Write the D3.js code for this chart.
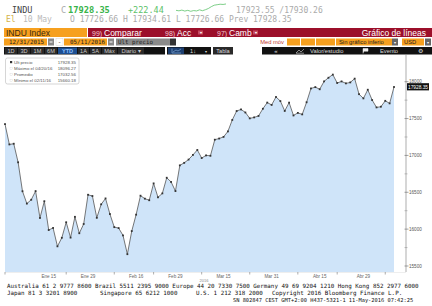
<!DOCTYPE html>
<html><head><meta charset="utf-8">
<script src="https://cdn.jsdelivr.net/npm/d3@7"></script>
<style>
html,body{margin:0;padding:0;background:#fff;}
svg{display:block;}
</style></head>
<body>
<svg id="c" width="432" height="306"></svg>
<script>
// ---------- DATA ----------
const dates = ["2015-12-31",
"2016-01-04","2016-01-05","2016-01-06","2016-01-07","2016-01-08","2016-01-11","2016-01-12","2016-01-13","2016-01-14","2016-01-15",
"2016-01-19","2016-01-20","2016-01-21","2016-01-22","2016-01-25","2016-01-26","2016-01-27","2016-01-28","2016-01-29",
"2016-02-01","2016-02-02","2016-02-03","2016-02-04","2016-02-05","2016-02-08","2016-02-09","2016-02-10","2016-02-11","2016-02-12",
"2016-02-16","2016-02-17","2016-02-18","2016-02-19","2016-02-22","2016-02-23","2016-02-24","2016-02-25","2016-02-26","2016-02-29",
"2016-03-01","2016-03-02","2016-03-03","2016-03-04","2016-03-07","2016-03-08","2016-03-09","2016-03-10","2016-03-11","2016-03-14",
"2016-03-15","2016-03-16","2016-03-17","2016-03-18","2016-03-21","2016-03-22","2016-03-23","2016-03-24","2016-03-28","2016-03-29",
"2016-03-30","2016-03-31","2016-04-01","2016-04-04","2016-04-05","2016-04-06","2016-04-07","2016-04-08","2016-04-11","2016-04-12",
"2016-04-13","2016-04-14","2016-04-15","2016-04-18","2016-04-19","2016-04-20","2016-04-21","2016-04-22","2016-04-25","2016-04-26",
"2016-04-27","2016-04-28","2016-04-29","2016-05-02","2016-05-03","2016-05-04","2016-05-05","2016-05-06","2016-05-09","2016-05-10"];
const closes = [17425.03,
17148.94,17158.66,16906.51,16514.10,16346.45,16398.57,16516.22,16151.41,16379.05,15988.08,
16016.02,15766.74,15882.68,16093.51,15885.22,16167.23,15944.46,16069.64,16466.30,
16449.18,16153.54,16336.66,16416.58,16204.97,16027.05,16014.38,15914.74,15660.18,15973.84,
16196.41,16453.83,16413.43,16391.99,16620.66,16431.78,16484.99,16697.29,16639.97,16516.50,
16865.08,16899.32,16943.90,17006.77,17073.95,16964.10,17000.36,16995.13,17213.31,17229.13,
17251.53,17325.76,17481.49,17602.30,17623.87,17582.57,17502.59,17515.73,17535.39,17633.11,
17716.66,17685.09,17792.75,17737.00,17603.32,17716.05,17541.96,17576.96,17556.41,17721.25,
17908.28,17926.43,17897.46,18004.16,18053.60,18096.27,17982.52,18003.75,17977.24,17990.32,
18041.55,17830.76,17773.64,17891.16,17750.91,17651.26,17660.71,17740.63,17705.91,17928.35];
const xLabelDates = ["2016-01-15","2016-01-29","2016-02-16","2016-02-29","2016-03-15","2016-03-31","2016-04-15","2016-04-29"];
const xLabelTexts = ["Ene 15","Ene 29","Feb 16","Feb 29","Mar 15","Mar 31","Abr 15","Abr 29"];
const xTickDates = ["2015-12-31","2016-01-22","2016-02-08","2016-02-22","2016-03-08","2016-03-23","2016-04-08","2016-04-21","2016-05-06"];
const yTicks = [15500,16000,16500,17000,17500,18000];
const yMinorTicks = [15750,16250,16750,17250,17750];
const legendLabels = ["Ult precio","Máximo el 04/20/16","Promedio","Mínimo el 02/11/16"];
const legendValues = ["17928.35","18096.27","17032.56","15660.18"];
const sparkValues = [3,2.6,3.2,2.4,3,2.2,2.8,2.5,3.4,2.7,3.5,4.5,6,7.2,7.6,8,7.8,8.2];
const timeButtons = ["1D","3D","1M","6M","YTD","1A","5A","Máx","Diario ▾"];
const footerLine1 = "Australia 61 2 9777 8600 Brazil 5511 2395 9000 Europe 44 20 7330 7500 Germany 49 69 9204 1210 Hong Kong 852 2977 6000";
const footerLine2 = ["Japan 81 3 3201 8900","Singapore 65 6212 1000","U.S. 1 212 318 2000","Copyright 2016 Bloomberg Finance L.P."];
const footerLine3 = "SN 802847 CEST  GMT+2:00 H437-5321-1 11-May-2016 07:42:25";

// ---------- SETUP ----------
const svg = d3.select("#c");
const mono = "'DejaVu Sans Mono', 'Liberation Mono', monospace";
const sans = "'Liberation Sans', Arial, sans-serif";
const ORANGE = "#f6a01f", RED = "#9c0f2a", BLACK = "#111";

// ---------- HEADER rows 1-2 ----------
svg.append("text").attr("x",12).attr("y",13).attr("font-family",mono).attr("font-size",8.5).attr("fill","#444").text("INDU");
svg.append("text").attr("x",61).attr("y",13).attr("font-family",mono).attr("font-size",8.5).attr("fill","#aaa").text("C");
svg.append("text").attr("x",68).attr("y",13).attr("font-family",mono).attr("font-size",8.7).attr("font-weight","bold").attr("fill","#37b34a").text("17928.35");
svg.append("text").attr("x",128).attr("y",13).attr("font-family",mono).attr("font-size",8.5).attr("fill","#5cc26a").text("+222.44");
const sx = d3.scaleLinear().domain([0,sparkValues.length-1]).range([176,226]);
const sy = d3.scaleLinear().domain([0,9]).range([14,3]);
svg.append("path").attr("d",d3.line().x((d,i)=>sx(i)).y(d=>sy(d))(sparkValues))
  .attr("fill","none").attr("stroke","#5cc26a").attr("stroke-width",0.8);
svg.append("text").attr("x",236).attr("y",13).attr("font-family",mono).attr("font-size",8).attr("fill","#aaa").text("17923.55 /17930.26");
svg.append("text").attr("x",6).attr("y",22).attr("font-family",mono).attr("font-size",8).attr("fill","#d4b24a").text("El");
svg.append("text").attr("x",23).attr("y",22).attr("font-family",mono).attr("font-size",8).attr("fill","#bbb").text("10 May");
svg.append("text").attr("x",70).attr("y",22).attr("font-family",mono).attr("font-size",8).attr("fill","#aaa")
  .text("O 17726.66 H 17934.61 L 17726.66 Prev 17928.35");

// ---------- HEADER row 3 (orange / red bar) ----------
svg.append("rect").attr("x",4).attr("y",28).attr("width",83).attr("height",9).attr("fill",ORANGE);
svg.append("text").attr("x",6).attr("y",35.6).attr("font-family",sans).attr("font-size",8.5).attr("fill","#3a2a10").text("INDU Index");
svg.append("rect").attr("x",88).attr("y",28).attr("width",344).attr("height",9).attr("fill",RED);
[["99)","Comparar",92],["98)","Acc",165],["97)","Camb",217]].forEach(([n,t,x])=>{
  svg.append("text").attr("x",x).attr("y",35.6).attr("font-family",sans).attr("font-size",7).attr("fill","#f1c9cf").text(n);
  svg.append("text").attr("x",x+12).attr("y",35.6).attr("font-family",sans).attr("font-size",8.5).attr("fill","#fff").text(t);
});
[198,253].forEach(bx=>{
  svg.append("rect").attr("x",bx).attr("y",30.5).attr("width",5).attr("height",4).attr("fill","#c44a5e");
  svg.append("text").attr("x",bx+2.5).attr("y",34).attr("text-anchor","middle").attr("font-size",4).attr("fill","#fff").text("▾");
});
svg.append("text").attr("x",426).attr("y",35.6).attr("text-anchor","end").attr("font-family",sans).attr("font-size",8.5).attr("fill","#fff").text("Gráfico de líneas");

// ---------- HEADER row 4 (dates) ----------
const r4y = 38.5, r4h = 7;
svg.append("rect").attr("x",4).attr("y",r4y).attr("width",43).attr("height",r4h).attr("fill",ORANGE);
svg.append("text").attr("x",44).attr("y",r4y+5.5).attr("text-anchor","end").attr("font-family",mono).attr("font-size",5.8).attr("fill","#222").text("12/31/2015");
svg.append("rect").attr("x",48).attr("y",r4y).attr("width",6).attr("height",r4h).attr("fill","#888");
svg.append("rect").attr("x",49.5).attr("y",r4y+3).attr("width",3).attr("height",1).attr("fill","#fff");
svg.append("rect").attr("x",56).attr("y",r4y).attr("width",7).attr("height",r4h).attr("fill","#fff").attr("stroke","#ccc").attr("stroke-width",0.4);
svg.append("text").attr("x",59.5).attr("y",r4y+5.5).attr("text-anchor","middle").attr("font-size",6).attr("fill","#333").text("-");
svg.append("rect").attr("x",64).attr("y",r4y).attr("width",43).attr("height",r4h).attr("fill",ORANGE);
svg.append("text").attr("x",105).attr("y",r4y+5.5).attr("text-anchor","end").attr("font-family",mono).attr("font-size",5.8).attr("fill","#222").text("05/11/2016");
svg.append("rect").attr("x",108).attr("y",r4y).attr("width",6).attr("height",r4h).attr("fill","#888");
svg.append("rect").attr("x",109.5).attr("y",r4y+3).attr("width",3).attr("height",1).attr("fill","#fff");
svg.append("rect").attr("x",116).attr("y",r4y).attr("width",54).attr("height",r4h).attr("fill","#8a8a8a");
svg.append("text").attr("x",118).attr("y",r4y+5.5).attr("font-family",mono).attr("font-size",5.8).attr("fill","#222").text("Ult precio");
svg.append("rect").attr("x",170).attr("y",r4y).attr("width",6).attr("height",r4h).attr("fill","#333");
svg.append("text").attr("x",284).attr("y",r4y+5.5).attr("text-anchor","end").attr("font-family",sans).attr("font-size",5.8).attr("fill","#c0392b").text("Med móv");
[[287,13],[301,14],[316,19]].forEach(([x,w])=>svg.append("rect").attr("x",x).attr("y",r4y).attr("width",w).attr("height",r4h).attr("fill",ORANGE));
svg.append("rect").attr("x",336).attr("y",r4y).attr("width",56).attr("height",r4h).attr("fill",ORANGE);
svg.append("text").attr("x",339).attr("y",r4y+5.5).attr("font-family",sans).attr("font-size",5.8).attr("fill","#222").text("Sin gráfico inferio");
svg.append("rect").attr("x",392).attr("y",r4y).attr("width",6).attr("height",r4h).attr("fill","#666");
svg.append("text").attr("x",395).attr("y",r4y+5).attr("text-anchor","middle").attr("font-size",4).attr("fill","#fff").text("▾");
svg.append("rect").attr("x",402).attr("y",r4y).attr("width",22).attr("height",r4h).attr("fill",ORANGE);
svg.append("text").attr("x",404).attr("y",r4y+5.5).attr("font-family",sans).attr("font-size",5.8).attr("fill","#222").text("USD");
svg.append("rect").attr("x",425).attr("y",r4y).attr("width",6).attr("height",r4h).attr("fill","#666");
svg.append("text").attr("x",428).attr("y",r4y+5).attr("text-anchor","middle").attr("font-size",4).attr("fill","#fff").text("▾");

// ---------- HEADER row 5 (buttons) ----------
const r5y = 47, r5h = 7.5;
svg.append("rect").attr("x",4).attr("y",r5y).attr("width",161).attr("height",r5h).attr("fill",BLACK);
const bw = [13,13,14,13,20,12,12,16,27];
let bx = 5;
timeButtons.forEach((t,i)=>{
  const ytd = t==="YTD";
  svg.append("rect").attr("x",bx).attr("y",r5y+0.5).attr("width",bw[i]-1).attr("height",r5h-1).attr("fill",ytd?"#1d4f91":"#2a2a2a");
  svg.append("text").attr("x",bx+(bw[i]-1)/2).attr("y",r5y+5.7).attr("text-anchor","middle").attr("font-family",sans)
    .attr("font-size",5.6).attr("fill",ytd?"#8fc1ff":"#ccc").attr("font-weight",ytd?"bold":"normal").text(t);
  bx += bw[i];
});
svg.append("rect").attr("x",167).attr("y",r5y).attr("width",44).attr("height",r5h).attr("fill",BLACK);
svg.append("rect").attr("x",168).attr("y",r5y+0.5).attr("width",16).attr("height",r5h-1).attr("fill","#1d3f70");
svg.append("path").attr("d","M172 "+(r5y+1.5)+" V"+(r5y+6)+" H181 M173 "+(r5y+5)+" L176 "+(r5y+3)+" L178 "+(r5y+4)+" L181 "+(r5y+2)).attr("stroke","#8fb8e8").attr("fill","none").attr("stroke-width",0.6);
svg.append("text").attr("x",193).attr("y",r5y+5.7).attr("text-anchor","middle").attr("font-family",sans).attr("font-size",5.6).attr("fill","#ddd").text("1↓");
svg.append("text").attr("x",206).attr("y",r5y+5.7).attr("text-anchor","middle").attr("font-size",4).attr("fill","#ddd").text("▾");
svg.append("rect").attr("x",213).attr("y",r5y).attr("width",20).attr("height",r5h).attr("fill","#2a2a2a");
svg.append("text").attr("x",223).attr("y",r5y+5.7).attr("text-anchor","middle").attr("font-family",sans).attr("font-size",5.6).attr("fill","#ddd").text("Tabla");
svg.append("rect").attr("x",262).attr("y",r5y).attr("width",170).attr("height",r5h).attr("fill",BLACK);
svg.append("text").attr("x",276).attr("y",r5y+5.9).attr("text-anchor","middle").attr("font-family",sans).attr("font-size",6).attr("fill","#ddd").text("«");
svg.append("path").attr("d","M296 "+(r5y+6)+" L299 "+(r5y+3)+" L301 "+(r5y+5)+" L304 "+(r5y+2)+" M296 "+(r5y+6.2)+" H304").attr("stroke","#ddd").attr("fill","none").attr("stroke-width",0.6);
svg.append("text").attr("x",310).attr("y",r5y+5.7).attr("font-family",sans).attr("font-size",5.8).attr("fill","#ddd").text("Valor/estudio");
svg.append("path").attr("d","M363 "+(r5y+6.5)+" V"+(r5y+1.5)+" H368 V"+(r5y+4.2)+" H364").attr("fill","#eee").attr("stroke","#eee").attr("stroke-width",0.5);
svg.append("text").attr("x",380).attr("y",r5y+5.7).attr("font-family",sans).attr("font-size",5.8).attr("fill","#ddd").text("Evento");
svg.append("text").attr("x",420).attr("y",r5y+6).attr("text-anchor","middle").attr("font-size",6).attr("fill","#ddd").text("⚙");

// ---------- CHART ----------
const idx = d3.range(closes.length);
const x = d3.scaleLinear().domain([0, closes.length-1]).range([5, 394]);
const y = d3.scaleLinear().domain([15500, 18000]).range([266, 81.7]);
const plotBottom = 272, axisX = 406;

svg.append("path").datum(idx)
  .attr("d", d3.area().x(i=>x(i)).y0(plotBottom).y1(i=>y(closes[i])))
  .attr("fill","#cfe4f9");
svg.append("path").datum(idx)
  .attr("d", d3.line().x(i=>x(i)).y(i=>y(closes[i])))
  .attr("fill","none").attr("stroke","#555").attr("stroke-width",0.8);
svg.append("g").selectAll("rect").data(idx).join("rect")
  .attr("x",i=>x(i)-0.9).attr("y",i=>y(closes[i])-0.9).attr("width",1.8).attr("height",1.8).attr("fill","#333");

// x axis
svg.append("line").attr("x1",5).attr("x2",axisX).attr("y1",plotBottom+0.5).attr("y2",plotBottom+0.5).attr("stroke","#ddd").attr("stroke-width",0.5);
svg.append("g").selectAll("line").data(xTickDates).join("line")
  .attr("x1",d=>x(dates.indexOf(d))).attr("x2",d=>x(dates.indexOf(d)))
  .attr("y1",plotBottom).attr("y2",plotBottom+2.5).attr("stroke","#777").attr("stroke-width",0.6);
svg.append("g").selectAll("text").data(xLabelDates).join("text")
  .attr("x",d=>x(dates.indexOf(d))).attr("y",277.5).attr("text-anchor","middle")
  .attr("font-family",sans).attr("font-size",4.6).attr("fill","#666")
  .text((d,i)=>xLabelTexts[i]);
svg.append("text").attr("x",204).attr("y",281.5).attr("text-anchor","middle").attr("font-family",sans).attr("font-size",4).attr("fill","#888").text("2016");

// y axis (right)
svg.append("line").attr("x1",axisX).attr("x2",axisX).attr("y1",55).attr("y2",plotBottom).attr("stroke","#777").attr("stroke-width",0.6);
svg.append("g").selectAll("line").data(yMinorTicks).join("line")
  .attr("x1",axisX-1.5).attr("x2",axisX+1.5).attr("y1",d=>y(d)).attr("y2",d=>y(d)).attr("stroke","#888").attr("stroke-width",0.5);
svg.append("g").selectAll("line").data(yTicks).join("line")
  .attr("x1",axisX-1.5).attr("x2",axisX+2.5).attr("y1",d=>y(d)).attr("y2",d=>y(d)).attr("stroke","#666").attr("stroke-width",0.6);
svg.append("g").selectAll("text").data(yTicks).join("text")
  .attr("x",axisX+3).attr("y",d=>y(d)+1.5).attr("font-family",sans).attr("font-size",4.6).attr("fill","#555")
  .text(d=>d);
const last = closes[closes.length-1];
svg.append("rect").attr("x",axisX+1).attr("y",y(last)-3.8).attr("width",22).attr("height",7.2).attr("fill","#111");
svg.append("text").attr("x",axisX+12).attr("y",y(last)+1.7).attr("text-anchor","middle").attr("font-family",sans)
  .attr("font-size",4.8).attr("fill","#fff").text(last.toFixed(2));

// legend
const lg = svg.append("g");
lg.append("rect").attr("x",5.5).attr("y",58).attr("width",73.5).attr("height",26).attr("rx",2)
  .attr("fill","#fff").attr("stroke","#bbb").attr("stroke-width",0.6);
legendLabels.forEach((t,i)=>{
  const ly = 63.5 + i*6.2;
  if(i===0){
    lg.append("rect").attr("x",10).attr("y",ly-2.5).attr("width",2.2).attr("height",2.2).attr("fill","#333");
  } else {
    lg.append("rect").attr("x",10).attr("y",ly-2.5).attr("width",2.2).attr("height",2.2).attr("fill","none").attr("stroke","#ccc").attr("stroke-width",0.3);
  }
  lg.append("text").attr("x",14).attr("y",ly).attr("font-family",sans).attr("font-size",4.4).attr("fill","#555").text(t);
  lg.append("text").attr("x",76).attr("y",ly).attr("text-anchor","end").attr("font-family",sans).attr("font-size",4.4).attr("fill","#555").text(legendValues[i]);
});

// ---------- FOOTER ----------
svg.append("text").attr("x",7).attr("y",287.5).attr("font-family",mono).attr("font-size",5.85).attr("fill","#111").text(footerLine1);
const f2x = [7,100,196,272];
footerLine2.forEach((t,i)=>{
  svg.append("text").attr("x",f2x[i]).attr("y",294.5).attr("font-family",mono).attr("font-size",5.85).attr("fill","#111").text(t);
});
svg.append("text").attr("x",233).attr("y",301.5).attr("font-family",mono).attr("font-size",5.35).attr("fill","#111").text(footerLine3);
</script>
</body></html>
